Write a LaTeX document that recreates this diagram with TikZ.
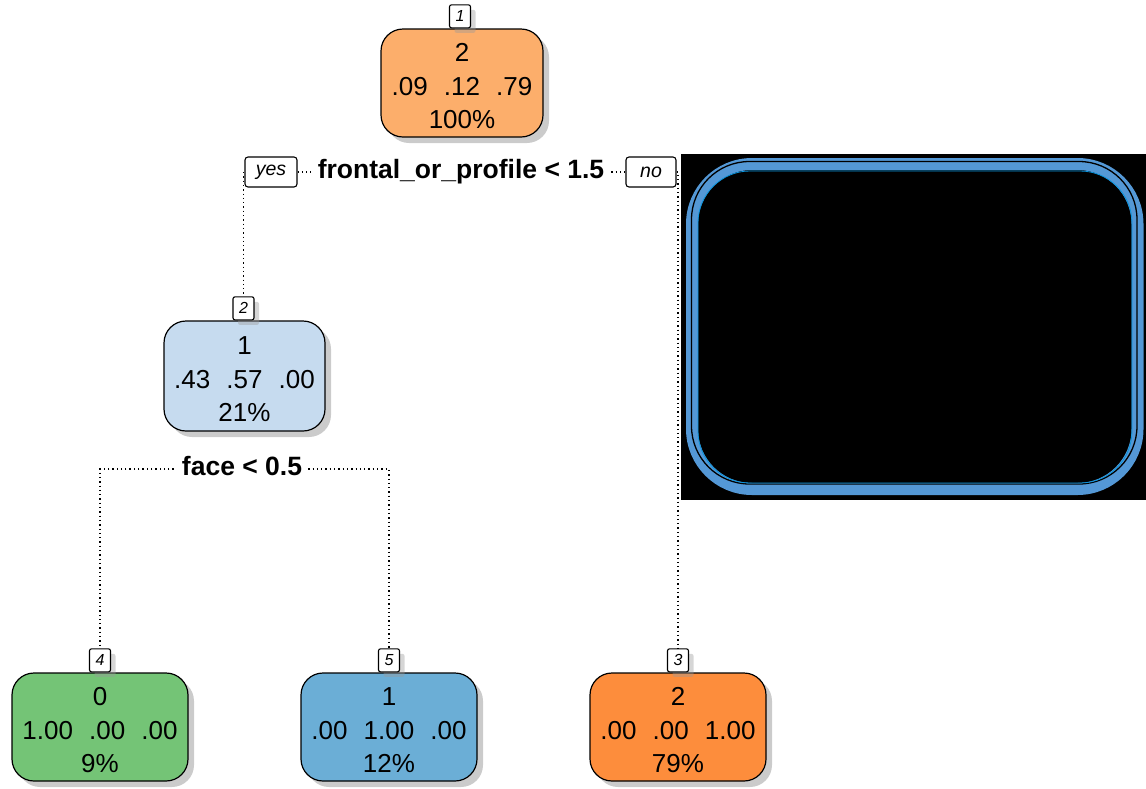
\documentclass[tikz,border=0pt]{standalone}
\usepackage{fontspec}
\setmainfont{Liberation Sans}
\usetikzlibrary{shadows}
\definecolor{orlight}{RGB}{252,174,107}
\definecolor{ordark}{RGB}{253,141,60}
\definecolor{blulight}{RGB}{198,219,239}
\definecolor{bludark}{RGB}{107,174,214}
\definecolor{grn}{RGB}{116,196,118}
\definecolor{frameblue}{RGB}{84,152,214}
\newcommand{\gp}{\hspace{0.62em}}
\newcommand{\topstrut}{\rule{0pt}{25pt}}
\tikzset{
  treebox/.style={draw=black, line width=1.2pt, rounded corners=22pt,
    minimum width=176pt, minimum height=108pt, align=center, inner sep=0pt,
    font=\fontsize{26}{33.5}\selectfont,
    drop shadow={shadow xshift=6pt, shadow yshift=-6pt, fill=black!45, opacity=0.45}},
  numtag/.style={draw=black, line width=1.1pt, fill=white, rounded corners=2pt,
    minimum width=21pt, minimum height=23pt, inner sep=0pt,
    font=\fontsize{16}{16}\selectfont\itshape,
    drop shadow={shadow xshift=5pt, shadow yshift=-5pt, fill=black!40, opacity=0.4}},
  yntag/.style={draw=black, line width=1.1pt, fill=white, rounded corners=3pt,
    minimum height=30pt, inner sep=0pt, font=\fontsize{19.5}{19.5}\selectfont\itshape},
  splittxt/.style={inner sep=0pt, font=\fontsize{26.5}{26.5}\selectfont\bfseries},
  dotline/.style={line width=1.3pt, dash pattern=on 1.3pt off 3pt}
}
\begin{document}
\begin{tikzpicture}[x=1pt,y=-1pt]
\useasboundingbox (0,0) rectangle (1146,788);

% tree nodes
\node[treebox, fill=orlight, minimum width=162pt] (n1) at (462,83) {\topstrut 2\\.09\gp.12\gp.79\\100\%};
\node[treebox, fill=blulight, minimum width=161pt, minimum height=110pt] (n2) at (244.5,376) {\topstrut 1\\.43\gp.57\gp.00\\21\%};
\node[treebox, fill=grn] (n4) at (100,727) {\topstrut 0\\1.00\gp.00\gp.00\\9\%};
\node[treebox, fill=bludark] (n5) at (389,727) {\topstrut 1\\.00\gp1.00\gp.00\\12\%};
\node[treebox, fill=ordark] (n3) at (678,727) {\topstrut 2\\.00\gp.00\gp1.00\\79\%};

% node numbers
\node[numtag, anchor=south] (l1) at ([xshift=-2pt]n1.north) {1};
\node[numtag, anchor=south] (l2) at ([xshift=-1pt]n2.north) {2};
\node[numtag, anchor=south] (l4) at (n4.north) {4};
\node[numtag, anchor=south] (l5) at (n5.north) {5};
\node[numtag, anchor=south] (l3) at (n3.north) {3};

% first split
\node[splittxt] (s1) at (461,172) {frontal\_or\_profile < 1.5};
\node[yntag, minimum width=52pt] (yes) at (271,172) {yes};
\node[yntag, minimum width=50pt] (no) at (651,172) {no};
\draw[dotline, shorten >=7pt] (yes.east) -- (s1.west);
\draw[dotline, shorten <=7pt] (s1.east) -- (no.west);
\draw[dotline] ([xshift=-1pt]yes.west) -- ([xshift=-1pt]yes.west |- l2.north);
\draw[dotline] (no.east) -| (l3.north);

% second split
\node[splittxt] (s2) at (242,466) {face < 0.5};
\draw[dotline] ([xshift=-8pt,yshift=-3pt]s2.west) -| (l4.north);
\draw[dotline] ([xshift=6pt,yshift=-3pt]s2.east) -| (l5.north);

% black panel with framed rounded box
\fill[black] (681,154) rectangle (1146,500);
\draw[frameblue, line width=12pt, rounded corners=60pt] (692,164) rectangle (1137.5,489);
\draw[black, line width=1.3pt, rounded corners=58pt] (691.5,161.5) rectangle (1137,484);
\draw[cyan!80!blue, line width=0.8pt, rounded corners=52pt] (698,171) rectangle (1132,483);
\end{tikzpicture}
\end{document}
